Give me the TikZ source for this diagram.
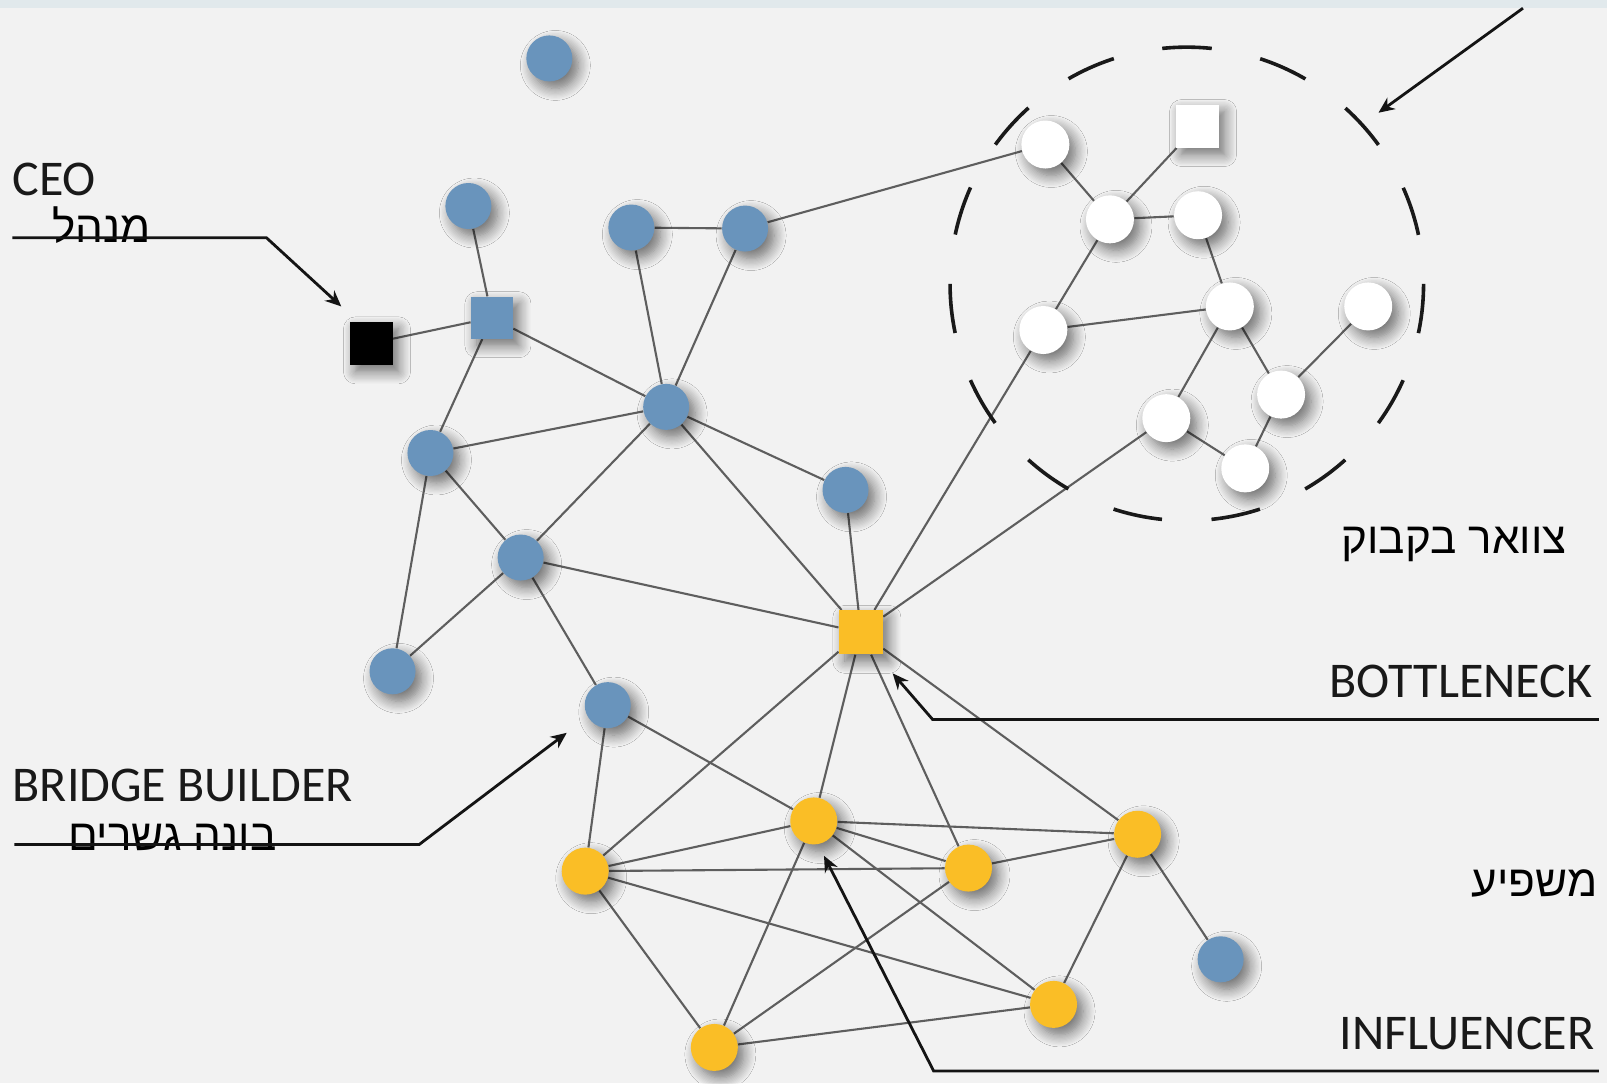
\documentclass[tikz,border=0pt]{standalone}
\usepackage{fontspec}
\setmainfont{Carlito}
\newfontfamily\hebfont[Script=Hebrew]{Liberation Sans}
\usetikzlibrary{arrows.meta,shadows.blur}
\TeXXeTstate=1
\definecolor{bgc}{HTML}{F2F2F2}
\definecolor{stripc}{HTML}{E1E9EC}
\definecolor{nblue}{RGB}{105,148,188}
\definecolor{nyellow}{RGB}{250,190,38}
\definecolor{edgec}{HTML}{5E5E5E}
\pgfdeclarelayer{bg}
\pgfsetlayers{bg,main}
\tikzset{
  shad/.style={blur shadow={shadow xshift=3pt,shadow yshift=-3.5pt,shadow blur radius=6pt,shadow blur steps=10,shadow opacity=55}},
  bnode/.style={circle,fill=nblue,minimum size=23pt,inner sep=0pt,shad},
  ynode/.style={circle,fill=nyellow,minimum size=23.5pt,inner sep=0pt,shad},
  wnode/.style={circle,fill=white,minimum size=24pt,inner sep=0pt,shad},
  bsquare/.style={rectangle,fill=nblue,minimum size=21pt,inner sep=0pt,shad},
  ysquare/.style={rectangle,fill=nyellow,minimum size=22pt,inner sep=0pt,shad},
  wsquare/.style={rectangle,fill=white,minimum size=21.5pt,inner sep=0pt,shad},
  ksquare/.style={rectangle,fill=black,minimum size=21.5pt,inner sep=0pt,shad},
  link/.style={draw=edgec,line width=1.05pt},
  callout/.style={draw=black!92,line width=1.4pt,-{Stealth[length=8pt,width=7pt]}},
  entext/.style={font=\fontsize{25}{29}\selectfont,text=black!90,inner sep=0pt},
  hetext/.style={font=\hebfont\fontsize{22}{26}\selectfont,text=black,inner sep=0pt},
  ring/.style={draw=black!90,line width=1.8pt,dash pattern=on 24.8pt off 24.8pt}
}
\begin{document}
\begin{tikzpicture}[x=0.51245pt,y=-0.51245pt]
\useasboundingbox (0,0) rectangle (1568,1057);
% nodes
\node[bnode] (b1) at (536,57) {};
\node[bnode] (b2) at (457,201) {};
\node[bnode] (b3) at (616,222) {};
\node[bnode] (b4) at (727,223) {};
\node[bsquare] (bsq) at (480,310) {};
\node[ksquare] (ceo) at (362,335) {};
\node[bnode] (b5) at (650,397) {};
\node[bnode] (b6) at (420,442) {};
\node[bnode] (b7) at (825,478) {};
\node[bnode] (b8) at (508,544) {};
\node[bnode] (b9) at (383,655) {};
\node[bnode] (b10) at (593,688) {};
\node[bnode] (b11) at (1191,936) {};
\node[ysquare] (ysq) at (840,617) {};
\node[ynode] (y1) at (794,801) {};
\node[ynode] (y2) at (571,850) {};
\node[ynode] (y3) at (945,847) {};
\node[ynode] (y4) at (1110,814) {};
\node[ynode] (y5) at (1028,980) {};
\node[ynode] (y6) at (697,1022) {};
\node[wnode] (w1) at (1020,141) {};
\node[wsquare] (wsq) at (1168,123) {};
\node[wnode] (w2) at (1083,214) {};
\node[wnode] (w3) at (1169,210) {};
\node[wnode] (w4) at (1018,322) {};
\node[wnode] (w5) at (1200,299) {};
\node[wnode] (w6) at (1335,299) {};
\node[wnode] (w7) at (1250,385) {};
\node[wnode] (w8) at (1138,408) {};
\node[wnode] (w9) at (1215,457) {};
% labels
\node[entext,anchor=base west] (tceo) at (12,191) {CEO};
\node[hetext,anchor=base west] (hceo) at (51,237) {\beginR מנהל\endR};
\node[entext,anchor=base west] (tbridge) at (12,782) {BRIDGE BUILDER};
\node[hetext,anchor=base west] (hbridge) at (66,830) {\beginR בונה גשרים\endR};
\node[hetext,anchor=base east] (hbottle) at (1529,540) {\beginR צוואר בקבוק\endR};
\node[entext,anchor=base east] (tbottle) at (1554,681) {BOTTLENECK};
\node[hetext,anchor=base east] (hinfl) at (1559,875) {\beginR משפיע\endR};
\node[entext,anchor=base east] (tinfl) at (1556,1024) {INFLUENCER};
% callout coordinates
\coordinate (ceoA) at (12,232);
\coordinate (ceoB) at (260,232);
\coordinate (ceoT) at (333,299);
\coordinate (brA) at (14,824);
\coordinate (brB) at (409,824);
\coordinate (brT) at (553,715);
\coordinate (boA) at (1560,702);
\coordinate (boB) at (910,702);
\coordinate (boT) at (871,657);
\coordinate (inA) at (1560,1045);
\coordinate (inB) at (911,1045);
\coordinate (inT) at (804,835);
\coordinate (rgA) at (1486,8);
\coordinate (rgT) at (1345,110);
\coordinate (rgC) at (1158,277);
\begin{pgfonlayer}{bg}
\fill[bgc] (0,0) rectangle (1568,1057);
\fill[stripc] (0,0) rectangle (1568,8);
\foreach \a/\b in {b2/bsq,bsq/ceo,bsq/b5,bsq/b6,b3/b4,b3/b5,b4/b5,b4/w1,b5/b6,b5/b8,b5/b7,b5/ysq,b6/b8,b6/b9,b8/b9,b8/ysq,b8/b10,b7/ysq,b10/y2,b10/y1,ysq/w4,ysq/w8,ysq/y2,ysq/y1,ysq/y3,ysq/y4,y1/y2,y1/y4,y1/y3,y1/y6,y1/y5,y2/y3,y2/y5,y2/y6,y3/y6,y3/y4,y4/y5,y4/b11,y5/y6,w1/w2,wsq/w2,w2/w3,w2/w4,w3/w5,w4/w5,w5/w8,w5/w7,w6/w7,w7/w9,w8/w9}
  \draw[link] (\a) -- (\b);
\end{pgfonlayer}
% dashed ring and callouts
\draw[ring] (rgC) circle [radius=231];
\draw[callout] (rgA) -- (rgT);
\draw[callout] (ceoA) -- (ceoB) -- (ceoT);
\draw[callout] (brA) -- (brB) -- (brT);
\draw[callout] (boA) -- (boB) -- (boT);
\draw[callout] (inA) -- (inB) -- (inT);
\end{tikzpicture}
\end{document}
